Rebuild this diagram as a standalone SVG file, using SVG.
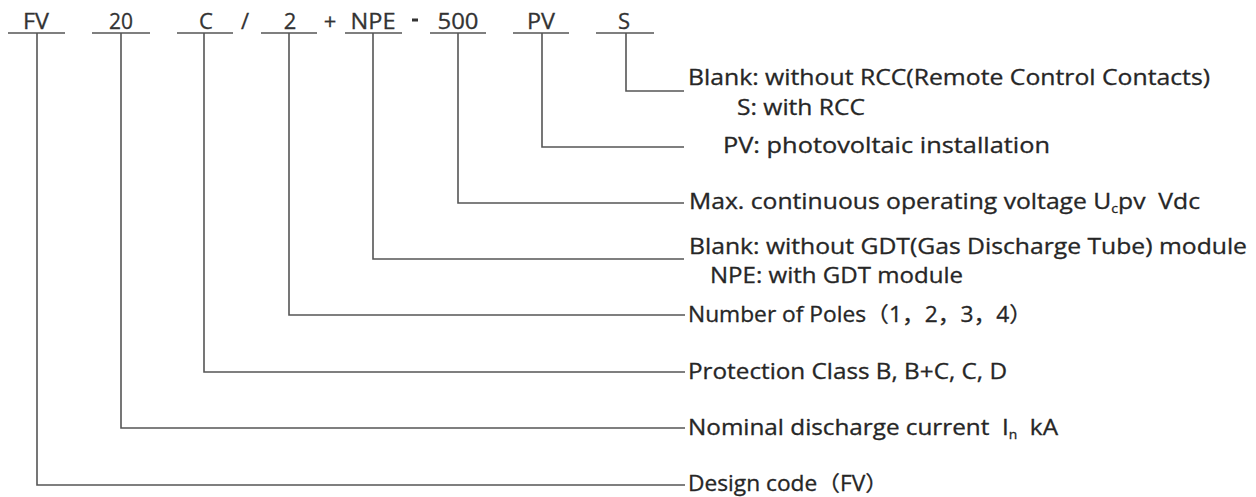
<svg xmlns="http://www.w3.org/2000/svg" width="1256" height="497" viewBox="0 0 1256 497">
<style>
  .code { font-family: "Open Sans", "Liberation Sans", sans-serif; font-size: 22px; fill: #333; stroke: #333; stroke-width: 0.3; text-anchor: middle; }
  .lbl { font-family: "Open Sans", "Noto Sans CJK SC", sans-serif; font-size: 21px; fill: #262626; stroke: #262626; stroke-width: 0.3; white-space: pre; }
  .ul { stroke: #555; stroke-width: 1.6; fill: none; }
  .conn path { stroke: #555; stroke-width: 1.6; fill: none; }
  .sub { font-size: 12px; }
</style>
<rect width="1256" height="497" fill="#fff"/>

<g id="code-FV"><text class="code" x="36" y="29" textLength="26" lengthAdjust="spacingAndGlyphs">FV</text><line class="ul" x1="8" y1="33" x2="65" y2="33"/></g>
<g id="code-20"><text class="code" x="121" y="29" textLength="24" lengthAdjust="spacingAndGlyphs">20</text><line class="ul" x1="92" y1="33" x2="150" y2="33"/></g>
<g id="code-C"><text class="code" x="206" y="29">C</text><line class="ul" x1="177" y1="33" x2="233" y2="33"/></g>
<g id="sep-slash"><text class="code" x="245" y="29">/</text></g>
<g id="code-2"><text class="code" x="290" y="29">2</text><line class="ul" x1="261" y1="33" x2="317" y2="33"/></g>
<g id="sep-plus"><text class="code" x="330" y="29">+</text></g>
<g id="code-NPE"><text class="code" x="373" y="29" textLength="45" lengthAdjust="spacingAndGlyphs">NPE</text><line class="ul" x1="345" y1="33" x2="402" y2="33"/></g>
<g id="sep-dash"><rect x="412" y="18.5" width="6" height="3" fill="#333"/></g>
<g id="code-500"><text class="code" x="458" y="29" textLength="41" lengthAdjust="spacingAndGlyphs">500</text><line class="ul" x1="430" y1="33" x2="486" y2="33"/></g>
<g id="code-PV"><text class="code" x="541" y="29" textLength="28" lengthAdjust="spacingAndGlyphs">PV</text><line class="ul" x1="513" y1="33" x2="569" y2="33"/></g>
<g id="code-S"><text class="code" x="624" y="29">S</text><line class="ul" x1="596" y1="33" x2="654" y2="33"/></g>

<g id="connectors" class="conn">
  <path d="M626 33 V91 H684"/>
  <path d="M542 33 V147 H684"/>
  <path d="M458 33 V203 H684"/>
  <path d="M373 33 V259 H684"/>
  <path d="M289 33 V315 H685"/>
  <path d="M204 33 V372 H685"/>
  <path d="M121 33 V428 H685"/>
  <path d="M37 33 V485 H685"/>
</g>

<g id="label-S">
  <text class="lbl" x="688" y="85" textLength="522" lengthAdjust="spacingAndGlyphs">Blank: without RCC(Remote Control Contacts)</text>
  <text class="lbl" x="737" y="115" textLength="128" lengthAdjust="spacingAndGlyphs">S: with RCC</text>
</g>
<g id="label-PV">
  <text class="lbl" x="723" y="153" textLength="327" lengthAdjust="spacingAndGlyphs">PV: photovoltaic installation</text>
</g>
<g id="label-500">
  <text class="lbl" x="689" y="209" textLength="511" lengthAdjust="spacingAndGlyphs">Max. continuous operating voltage U<tspan class="sub" dy="4">c</tspan><tspan dy="-4">pv  Vdc</tspan></text>
</g>
<g id="label-NPE">
  <text class="lbl" x="689" y="254" textLength="558" lengthAdjust="spacingAndGlyphs">Blank: without GDT(Gas Discharge Tube) module</text>
  <text class="lbl" x="710" y="283" textLength="253" lengthAdjust="spacingAndGlyphs">NPE: with GDT module</text>
</g>
<g id="label-2">
  <text class="lbl" x="688" y="322" textLength="344" lengthAdjust="spacingAndGlyphs">Number of Poles（1，2，3，4）</text>
</g>
<g id="label-C">
  <text class="lbl" x="688" y="379" textLength="319" lengthAdjust="spacingAndGlyphs">Protection Class B, B+C, C, D</text>
</g>
<g id="label-20">
  <text class="lbl" x="688" y="435" textLength="370" lengthAdjust="spacingAndGlyphs">Nominal discharge current  I<tspan class="sub" dy="4">n</tspan><tspan dy="-4">  kA</tspan></text>
</g>
<g id="label-FV">
  <text class="lbl" x="688" y="491" textLength="200" lengthAdjust="spacingAndGlyphs">Design code（FV）</text>
</g>
</svg>
